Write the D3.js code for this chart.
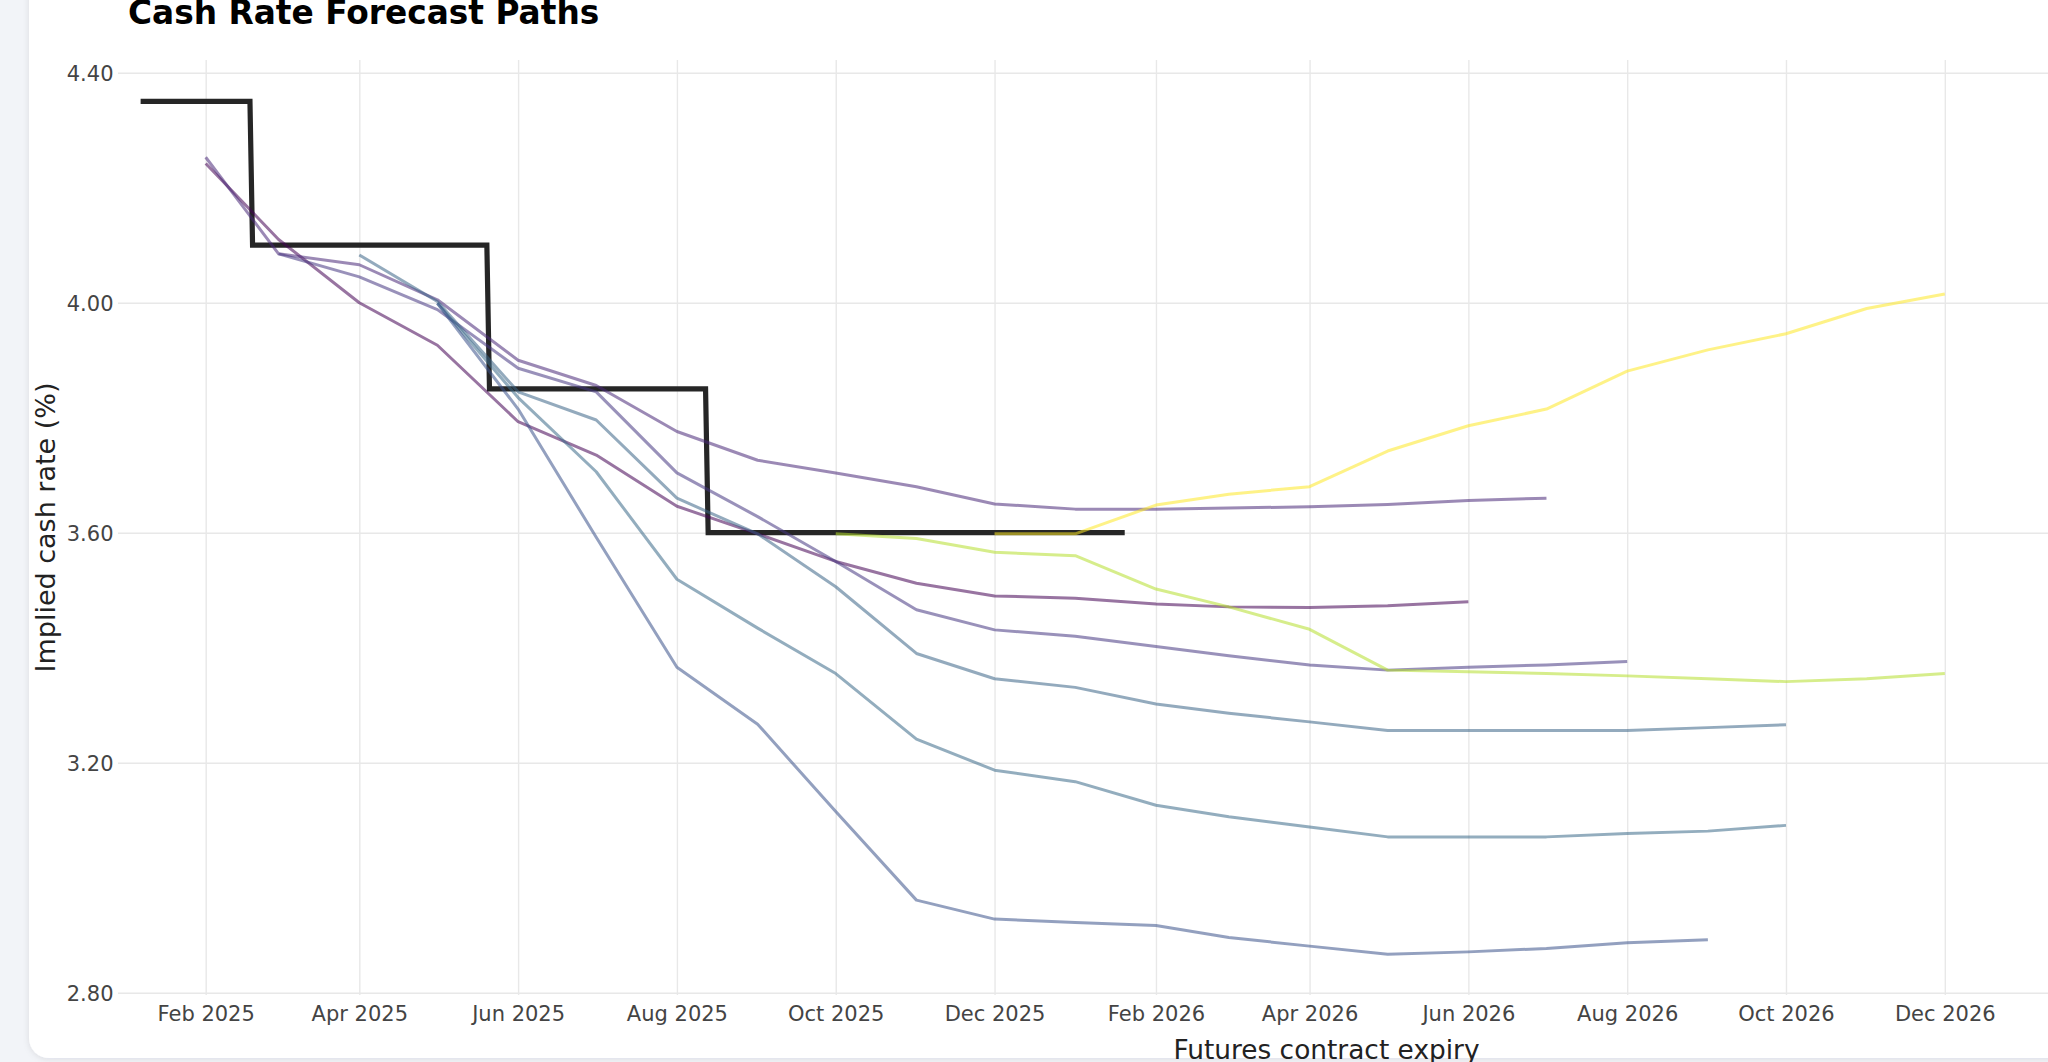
<!DOCTYPE html>
<html>
<head>
<meta charset="utf-8">
<script src="https://cdn.jsdelivr.net/npm/d3@7"></script>
<style>
  html, body { margin: 0; padding: 0; background: #f2f4f8; overflow: hidden; }
  svg { display: block; }
  text { font-family: "DejaVu Sans", sans-serif; }
</style>
</head>
<body>
<div id="chart"></div>
<script>
// ---------- DATA ----------
const chartTitle = "Cash Rate Forecast Paths";
const xAxisTitle = "Futures contract expiry";
const yAxisTitle = "Implied cash rate (%)";

// Actual cash rate (step path)
const cashRateDates  = ["2025-01-07", "2025-02-18", "2025-02-19", "2025-05-20", "2025-05-21", "2025-08-12", "2025-08-13", "2026-01-20"];
const cashRateValues = [4.35, 4.35, 4.10, 4.10, 3.85, 3.85, 3.60, 3.60];

// Forecast paths: first contract month + monthly implied rates
const pathStarts = ["2025-02-01", "2025-02-01", "2025-03-01", "2025-04-01", "2025-05-01", "2025-05-01", "2025-10-01", "2025-12-01"];
const path1 = [4.242, 4.11, 4.00, 3.926, 3.793, 3.735, 3.646, 3.598, 3.55, 3.512, 3.490, 3.486, 3.476, 3.471, 3.470, 3.473, 3.480];
const path2 = [4.253, 4.085, 4.066, 4.005, 3.900, 3.856, 3.776, 3.726, 3.704, 3.680, 3.650, 3.641, 3.641, 3.643, 3.645, 3.649, 3.656, 3.660];
const path3 = [4.085, 4.045, 3.988, 3.886, 3.845, 3.704, 3.628, 3.550, 3.466, 3.431, 3.420, 3.402, 3.386, 3.370, 3.361, 3.366, 3.370, 3.376];
const path4 = [4.083, 4.002, 3.845, 3.796, 3.660, 3.598, 3.506, 3.390, 3.346, 3.331, 3.302, 3.286, 3.271, 3.256, 3.256, 3.256, 3.256, 3.261, 3.266];
const path5 = [3.999, 3.835, 3.706, 3.519, 3.434, 3.355, 3.241, 3.187, 3.167, 3.126, 3.106, 3.088, 3.071, 3.071, 3.071, 3.077, 3.081, 3.091];
const path6 = [3.999, 3.815, 3.592, 3.366, 3.267, 3.115, 2.961, 2.928, 2.922, 2.917, 2.896, 2.881, 2.867, 2.871, 2.877, 2.887, 2.892];
const path7 = [3.598, 3.590, 3.566, 3.560, 3.502, 3.471, 3.432, 3.361, 3.358, 3.355, 3.351, 3.346, 3.341, 3.346, 3.355];
const path8 = [3.598, 3.598, 3.648, 3.667, 3.680, 3.742, 3.786, 3.815, 3.881, 3.918, 3.946, 3.990, 4.015];
const pathValues = [path1, path2, path3, path4, path5, path6, path7, path8];

// Axis ticks
const xTickDates  = ["2025-02-01", "2025-04-01", "2025-06-01", "2025-08-01", "2025-10-01", "2025-12-01",
                     "2026-02-01", "2026-04-01", "2026-06-01", "2026-08-01", "2026-10-01", "2026-12-01"];
const xTickLabels = ["Feb 2025", "Apr 2025", "Jun 2025", "Aug 2025", "Oct 2025", "Dec 2025",
                     "Feb 2026", "Apr 2026", "Jun 2026", "Aug 2026", "Oct 2026", "Dec 2026"];
const yTickValues = [2.80, 3.20, 3.60, 4.00, 4.40];

// ---------- STYLE ----------
const pathColors = ["#440154", "#482878", "#453781", "#3b6587", "#3a6a88", "#3b528b", "#b5de2b", "#fde725"];

// ---------- LAYOUT ----------
const W = 2048, H = 1062;
const plot = { left: 118, right: 2535, top: 60, bottom: 995 };
const parse = d3.utcParse("%Y-%m-%d");

const x = d3.scaleUtc()
  .domain([parse("2025-02-01"), parse("2026-12-01")])
  .range([205.7, 1944.8]);
const y = d3.scaleLinear()
  .domain([2.8, 4.4])
  .range([992.7, 72.7]);

const svg = d3.select("#chart").append("svg")
  .attr("width", W).attr("height", H);

const defs = svg.append("defs");
const f = defs.append("filter").attr("id", "shadow")
  .attr("x", "-5%").attr("y", "-5%").attr("width", "110%").attr("height", "110%");
f.append("feDropShadow").attr("dx", 0).attr("dy", 1).attr("stdDeviation", 3)
  .attr("flood-color", "#1a2440").attr("flood-opacity", 0.10);

svg.append("rect").attr("width", W).attr("height", H).attr("fill", "#f2f4f8");
svg.append("rect")
  .attr("x", 29).attr("y", -60).attr("width", 2200).attr("height", 1118)
  .attr("rx", 20).attr("fill", "#ffffff").attr("filter", "url(#shadow)");

// Grid + axes
const xAxis = d3.axisBottom(x)
  .tickValues(xTickDates.map(parse))
  .tickFormat((d, i) => xTickLabels[i])
  .tickSize(-(plot.bottom - plot.top))
  .tickPadding(10.8);
const gx = svg.append("g").attr("transform", `translate(0,${plot.bottom})`).call(xAxis);
gx.select(".domain").remove();
gx.selectAll(".tick line").attr("stroke", "#e8e8e8").attr("stroke-width", 1.4);
gx.selectAll(".tick text").attr("fill", "#444").attr("font-size", 21)
  .attr("font-family", "DejaVu Sans");

const yAxis = d3.axisLeft(y)
  .tickValues(yTickValues)
  .tickFormat(d3.format(".2f"))
  .tickSize(-(plot.right - plot.left))
  .tickPadding(4.5);
const gy = svg.append("g").attr("transform", `translate(${plot.left},0)`).call(yAxis);
gy.select(".domain").remove();
gy.selectAll(".tick line").attr("stroke", "#e8e8e8").attr("stroke-width", 1.4);
gy.selectAll(".tick text").attr("fill", "#444").attr("font-size", 21)
  .attr("dy", "0.38em").attr("font-family", "DejaVu Sans");

// Lines
const line = d3.line().x(d => x(d.date)).y(d => y(d.value));

const cashData = cashRateDates.map((d, i) => ({ date: parse(d), value: cashRateValues[i] }));
svg.append("path").datum(cashData)
  .attr("d", line)
  .attr("fill", "none")
  .attr("stroke", "#262626")
  .attr("stroke-width", 5.2)
  .attr("stroke-linejoin", "miter")
  .attr("stroke-linecap", "butt");

pathValues.forEach((vals, k) => {
  const start = parse(pathStarts[k]);
  const data = vals.map((v, i) => ({ date: d3.utcMonth.offset(start, i), value: v }));
  svg.append("path").datum(data)
    .attr("d", line)
    .attr("fill", "none")
    .attr("stroke", pathColors[k])
    .attr("stroke-opacity", 0.55)
    .attr("stroke-width", 3)
    .attr("stroke-linejoin", "round");
});

// Titles
svg.append("text")
  .attr("x", 128).attr("y", 24)
  .attr("font-size", 32.8).attr("font-weight", "bold").attr("fill", "#000")
  .text(chartTitle);

svg.append("text")
  .attr("x", (plot.left + plot.right) / 2).attr("y", 1059)
  .attr("text-anchor", "middle").attr("font-size", 26.4).attr("fill", "#222")
  .text(xAxisTitle);

svg.append("text")
  .attr("transform", `translate(55,${(plot.top + plot.bottom) / 2}) rotate(-90)`)
  .attr("text-anchor", "middle").attr("font-size", 27).attr("fill", "#222")
  .text(yAxisTitle);
</script>
</body>
</html>
